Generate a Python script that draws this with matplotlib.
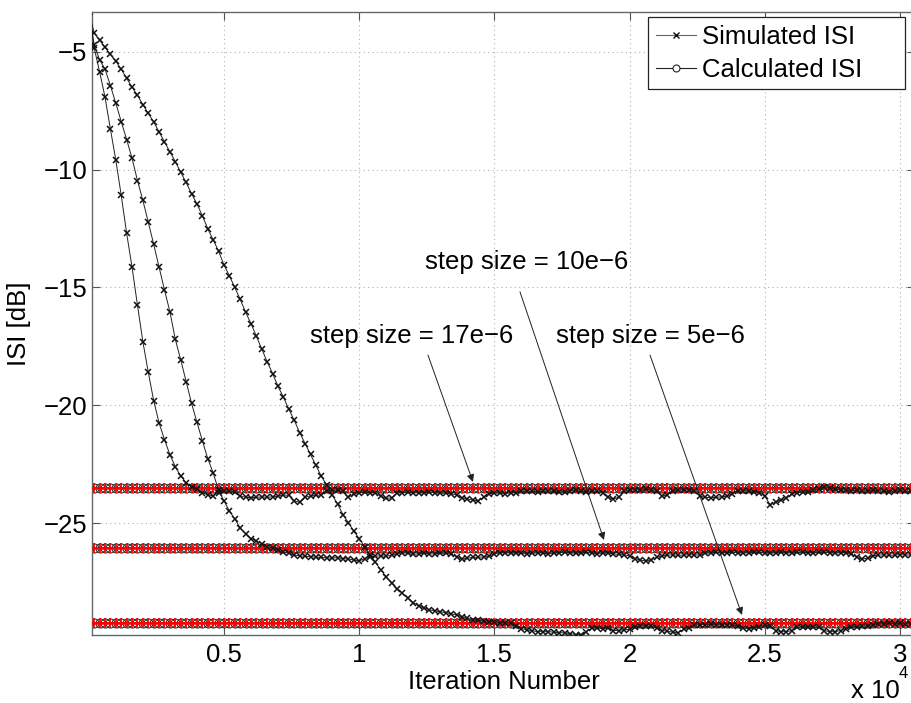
import numpy as np
import matplotlib
matplotlib.use("Agg")
import matplotlib.pyplot as plt
from matplotlib.lines import Line2D

plt.rcParams['font.family'] = ['Liberation Sans', 'DejaVu Sans']

# ---------------- data ----------------
iterations = np.arange(0, 30401, 200)

isi_17e6 = [
    -3.32, -4.85, -5.85, -6.93, -8.29, -9.60, -11.1, -12.7, -14.15, -15.75, -17.3,
    -18.6, -19.8, -20.75, -21.45, -22.1, -22.6, -23.0, -23.28, -23.45, -23.55,
    -23.7, -23.8, -23.84, -23.7, -23.62, -23.63, -23.68, -23.85, -23.9, -23.92,
    -23.9, -23.88, -23.9, -23.88, -23.85, -23.8, -23.82, -24.05, -24.12, -23.9,
    -23.84, -23.82, -23.8, -23.65, -23.6, -23.6, -23.65, -23.9, -23.75, -23.7,
    -23.68, -23.7, -23.72, -23.85, -23.95, -23.92, -23.72, -23.7, -23.68, -23.7,
    -23.72, -23.7, -23.68, -23.7, -23.73, -23.72, -23.75, -23.8, -23.92, -23.97,
    -24.02, -24.05, -23.9, -23.75, -23.73, -23.72, -23.74, -23.72, -23.7, -23.65,
    -23.62, -23.65, -23.66, -23.64, -23.62, -23.65, -23.68, -23.66, -23.62, -23.6,
    -23.64, -23.66, -23.62, -23.65, -23.7, -23.9, -23.97, -23.9, -23.65, -23.6,
    -23.58, -23.6, -23.55, -23.6, -23.65, -23.85, -23.8, -23.62, -23.6, -23.58,
    -23.6, -23.62, -23.85, -23.9, -23.92, -23.9, -23.88, -23.85, -23.75, -23.65,
    -23.62, -23.64, -23.66, -23.7, -23.85, -24.22, -24.1, -24.0, -23.95, -23.75,
    -23.7, -23.68, -23.66, -23.6, -23.55, -23.45, -23.5, -23.55, -23.58, -23.6,
    -23.62, -23.6, -23.65, -23.62, -23.6, -23.62, -23.65, -23.66, -23.62, -23.6,
    -23.65, -23.64,
]

isi_10e6 = [
    -3.32, -4.7, -5.35, -5.74, -6.44, -7.19, -7.97, -8.73, -9.52, -10.47, -11.31,
    -12.23, -13.17, -14.15, -15.11, -16.03, -17.2, -18.07, -18.99, -19.91, -20.72,
    -21.5, -22.26, -22.87, -23.6, -24.05, -24.48, -24.82, -25.2, -25.45, -25.65,
    -25.76, -25.86, -26.0, -26.07, -26.15, -26.22, -26.27, -26.35, -26.38, -26.4,
    -26.42, -26.44, -26.45, -26.47, -26.48, -26.46, -26.5, -26.52, -26.56, -26.6,
    -26.5, -26.42, -26.4, -26.38, -26.4, -26.36, -26.3, -26.25, -26.28, -26.32,
    -26.3, -26.28, -26.3, -26.3, -26.27, -26.28, -26.3, -26.42, -26.53, -26.48,
    -26.45, -26.44, -26.43, -26.4, -26.3, -26.26, -26.25, -26.27, -26.26, -26.28,
    -26.3, -26.28, -26.25, -26.27, -26.3, -26.28, -26.25, -26.22, -26.25, -26.28,
    -26.26, -26.24, -26.27, -26.3, -26.28, -26.26, -26.3, -26.32, -26.35, -26.38,
    -26.5, -26.56, -26.6, -26.55, -26.45, -26.38, -26.35, -26.34, -26.36, -26.35,
    -26.33, -26.35, -26.34, -26.28, -26.25, -26.24, -26.26, -26.25, -26.22, -26.25,
    -26.27, -26.25, -26.22, -26.24, -26.26, -26.28, -26.25, -26.22, -26.25, -26.27,
    -26.24, -26.22, -26.25, -26.26, -26.24, -26.22, -26.25, -26.27, -26.25, -26.26,
    -26.3, -26.45, -26.52, -26.48, -26.38, -26.35, -26.34, -26.36, -26.35, -26.33,
    -26.35, -26.34,
]

isi_5e6 = [
    -3.32, -4.2, -4.52, -4.82, -5.12, -5.41, -5.75, -6.13, -6.51, -6.85, -7.25,
    -7.62, -7.98, -8.41, -8.82, -9.25, -9.66, -10.12, -10.55, -11.02, -11.46,
    -11.96, -12.51, -12.99, -13.46, -14.05, -14.51, -15.0, -15.51, -16.05, -16.54,
    -17.08, -17.62, -18.16, -18.66, -19.2, -19.66, -20.17, -20.64, -21.16, -21.62,
    -22.07, -22.53, -23.01, -23.39, -23.8, -24.18, -24.64, -24.97, -25.34, -25.65,
    -26.0, -26.34, -26.66, -26.98, -27.27, -27.55, -27.77, -27.98, -28.18, -28.37,
    -28.5, -28.6, -28.67, -28.72, -28.75, -28.8, -28.84, -28.89, -28.97, -29.04,
    -29.09, -29.12, -29.15, -29.17, -29.17, -29.21, -29.22, -29.25, -29.35, -29.47,
    -29.52, -29.56, -29.6, -29.6, -29.6, -29.62, -29.64, -29.65, -29.68, -29.72,
    -29.72, -29.6, -29.45, -29.45, -29.47, -29.45, -29.55, -29.55, -29.52, -29.5,
    -29.38, -29.35, -29.35, -29.36, -29.45, -29.55, -29.58, -29.62, -29.64, -29.5,
    -29.45, -29.32, -29.3, -29.3, -29.28, -29.3, -29.32, -29.3, -29.32, -29.35,
    -29.45, -29.47, -29.45, -29.38, -29.33, -29.35, -29.55, -29.6, -29.6, -29.55,
    -29.42, -29.4, -29.38, -29.4, -29.42, -29.55, -29.6, -29.6, -29.55, -29.48,
    -29.4, -29.38, -29.35, -29.36, -29.3, -29.27, -29.26, -29.25, -29.26, -29.25,
    -29.27, -29.26,
]

calc_isi = {"17e-6": -23.52, "10e-6": -26.03, "5e-6": -29.21}

xtick_vals = [5000, 10000, 15000, 20000, 25000, 30000]
xtick_labels = ['0.5', '1', '1.5', '2', '2.5', '3']
ytick_vals = [-25, -20, -15, -10, -5]
legend_labels = ['Simulated ISI', 'Calculated ISI']

# ---------------- figure ----------------
W, H = 912, 703
AX_L, AX_R, AX_B, AX_T = 92.3, 915.0, 635.0, 12.0
fig = plt.figure(figsize=(W / 100, H / 100), dpi=100)
ax = fig.add_axes([AX_L / W, (H - AX_B) / H, (AX_R - AX_L) / W, (AX_B - AX_T) / H])

FS = 18.5

# calculated ISI (red band with circles)
for key, val in calc_isi.items():
    yv = np.full(len(iterations), val)
    ax.plot(iterations, yv, color='k', lw=0.8, marker='o', ms=6.5,
            mfc='none', mec='#333333', mew=0.8, zorder=2)
    ax.plot(iterations, yv, color='red', lw=1.8, marker='+', ms=7,
            mew=1.3, mec='red', zorder=3)

# simulated ISI curves
for ys in (isi_17e6, isi_10e6, isi_5e6):
    ax.plot(iterations, ys, color='#222222', lw=0.7, marker='x', ms=4.5,
            mew=1.1, mec='#111111', zorder=4)

ax.set_xlim(130, 30555)
ax.set_ylim(-29.74, -3.32)
ax.set_xticks(xtick_vals)
ax.set_xticklabels(xtick_labels)
ax.set_yticks(ytick_vals)
ax.tick_params(direction='in', length=6, width=0.8, labelsize=FS,
               top=True, right=True, colors='#555555', labelcolor='black')
ax.tick_params(axis='y', pad=3.5)
ax.tick_params(axis='x', pad=6)
for sp in ax.spines.values():
    sp.set_color('#666666')
    sp.set_linewidth(1.0)
ax.grid(True, color='#b0b0b0', lw=0.8, linestyle=(0, (1, 3)))

ax.set_xlabel('Iteration Number', fontsize=FS, labelpad=2)
ax.set_ylabel('ISI [dB]', fontsize=FS, labelpad=9)

# annotations
ax.text(16206, -13.92, 'step size = 10e\u22126', fontsize=FS, ha='center', va='center')
ax.text(11953, -17.05, 'step size = 17e\u22126', fontsize=FS, ha='center', va='center')
ax.text(20755, -17.05, 'step size = 5e\u22126', fontsize=FS, ha='center', va='center')

arrow_kw = dict(arrowstyle='-|>', color='#222222', lw=0.7, mutation_scale=11,
                shrinkA=0, shrinkB=0)
ax.annotate('', xy=(14208, -23.25), xytext=(12544, -17.87), arrowprops=arrow_kw)
ax.annotate('', xy=(19053, -25.71), xytext=(15947, -15.19), arrowprops=arrow_kw)
ax.annotate('', xy=(24157, -28.89), xytext=(20755, -17.87), arrowprops=arrow_kw)

# exponent label
fig.text(851 / W, 1 - 691 / H, 'x 10', fontsize=FS, ha='left', va='center')
fig.text(899 / W, 1 - 674 / H, '4', fontsize=12, ha='left', va='center')

# legend
handles = [
    Line2D([], [], color='#666666', lw=0.8, marker='x', ms=4, mec='#111111', mew=1.0),
    Line2D([], [], color='#222222', lw=0.8, marker='o', ms=5, mfc='white',
           mec='#222222', mew=0.8),
]
leg = ax.legend(handles, legend_labels, loc='upper left',
                bbox_to_anchor=((648 - AX_L) / (AX_R - AX_L), 1 - 5 / (AX_B - AX_T)),
                fontsize=FS, frameon=False, borderaxespad=0, handlelength=1.55,
                handletextpad=0.25, labelspacing=0.35, borderpad=0.3)
# MATLAB-style legend box with extra room on the right
fig.canvas.draw()
bb = leg.get_window_extent().transformed(fig.transFigure.inverted())
x0 = 648 / W
x1 = 905 / W
rect = plt.Rectangle((x0, bb.y0), x1 - x0, bb.height, transform=fig.transFigure,
                     facecolor='white', edgecolor='#222222', lw=0.9)
fig.add_artist(rect)
ax.set_zorder(1)
rect.set_zorder(2)
leg.remove()
fig.legends.append(leg)
leg.set_figure(fig)
leg.set_zorder(3)

fig.savefig('out.png', dpi=100)
